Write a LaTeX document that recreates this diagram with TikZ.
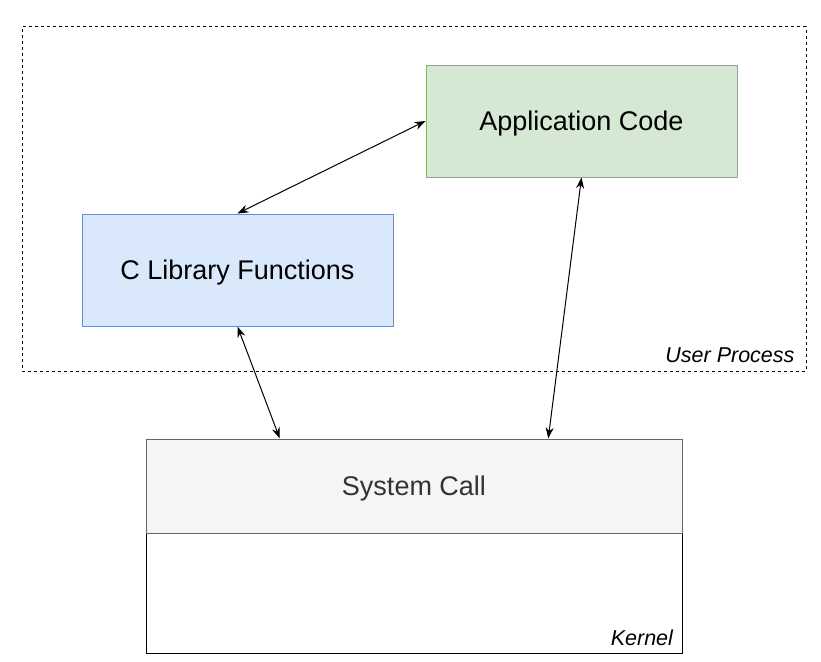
\documentclass[tikz,border=0pt]{standalone}
\usepackage{fontspec}
\setmainfont{Liberation Sans}
\usepackage{xcolor}
\usetikzlibrary{arrows.meta, positioning, calc}
\definecolor{appfill}{HTML}{D5E8D4}
\definecolor{appline}{HTML}{82B366}
\definecolor{libfill}{HTML}{DAE8FC}
\definecolor{libline}{HTML}{6C8EBF}
\definecolor{sysfill}{HTML}{F5F5F5}
\definecolor{sysline}{HTML}{666666}
\definecolor{systext}{HTML}{333333}

\begin{document}
\begin{tikzpicture}[
    x=1pt, y=-1pt,
    block/.style={rectangle, draw=#1line, fill=#1fill, line width=1pt, inner sep=0pt,
        minimum width=311pt, minimum height=112pt, text depth=0pt,
        font=\fontsize{27}{32}\selectfont},
    corner/.style={font=\fontsize{21.5}{26}\itshape},
    link/.style={{Stealth[length=11pt, width=8pt]}-{Stealth[length=11pt, width=8pt]}, line width=1pt},
]
    \useasboundingbox[fill=white] (0, 0) rectangle (821, 661);

    % User process frame
    \node[draw, dash pattern=on 3pt off 3pt, line width=1pt, minimum width=784pt,
        minimum height=344pt, inner sep=0pt] (user) at (414, 199) {};
    \node[corner, anchor=base east] at ($(user.south east)+(-8.5, -9)$) {User Process};

    % Boxes
    \node[block=app] (app) at (581.5, 121) {Application Code};
    \node[block=lib] (clib) at (237.5, 270) {C Library Functions};

    % Kernel with its system call layer
    \node[draw, line width=1pt, minimum width=536pt, minimum height=120pt,
        inner sep=0pt] (kernel) at (414, 593) {};
    \node[corner, anchor=base east] at ($(kernel.south east)+(-6, -8)$) {Kernel};
    \node[draw=sysline, fill=sysfill, line width=1pt, minimum width=536pt,
        minimum height=94pt, inner sep=0pt, text=systext, text depth=0pt,
        font=\fontsize{27}{32}\selectfont] (syscall) at (414, 486) {System Call};

    % Calls
    \coordinate (sysleft) at ($(syscall.north west)!0.25!(syscall.north east)$);
    \coordinate (sysright) at ($(syscall.north west)!0.75!(syscall.north east)$);
    \draw[link] (clib.north) -- (app.west);
    \draw[link] (clib.south) -- (sysleft);
    \draw[link] (app.south) -- (sysright);
\end{tikzpicture}
\end{document}
